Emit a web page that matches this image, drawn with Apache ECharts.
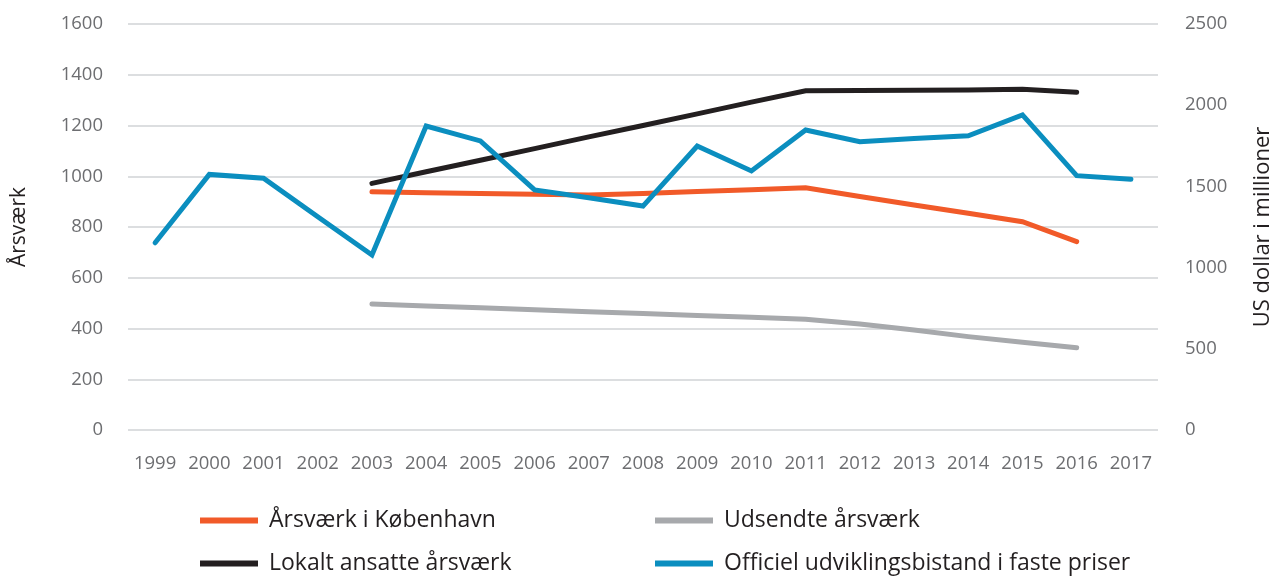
<!DOCTYPE html>
<html>
<head>
<meta charset="utf-8">
<script src="https://cdn.jsdelivr.net/npm/echarts@6/dist/echarts.min.js"></script>
<style>
html,body{margin:0;padding:0;background:#fff;overflow:hidden;width:1282px;height:578px;}
#chart{width:1282px;height:578px;}
</style>
</head>
<body>
<div id="chart"></div>
<script>
const years = ['1999','2000','2001','2002','2003','2004','2005','2006','2007','2008','2009','2010','2011','2012','2013','2014','2015','2016','2017'];
const leftTicks = [0, 200, 400, 600, 800, 1000, 1200, 1400, 1600];
const rightTicks = [0, 500, 1000, 1500, 2000, 2500];
const kobenhavn = [null,null,null,null,939,935,932,929,926,932,940,947,955,920,887,854,821,742,null];
const udsendte  = [null,null,null,null,497,489,482,474,466,459,451,444,436,418,394,368,346,324,null];
const lokalt    = [null,null,null,null,972,1018,1063,1109,1155,1200,1246,1292,1337,1338,1339,1340,1343,1331,null];
const bistand   = [1153,1574,1550,1313,1078,1872,1780,1478,1430,1379,1749,1595,1847,1775,1795,1812,1940,1566,1544];

const names = ['Årsværk i København','Udsendte årsværk','Lokalt ansatte årsværk','Officiel udviklingsbistand i faste priser'];
const colors = ['#f15a29','#a7a9ac','#231f20','#0b8ebf'];
const FONT = 'Open Sans';

const chart = echarts.init(document.getElementById('chart'), null, {renderer:'canvas', width:1282, height:578});

function mkSeries(i, data, yIdx){
  return {
    name: names[i], type:'line', data:data, yAxisIndex:yIdx,
    symbol:'none', smooth:false, connectNulls:false,
    lineStyle:{color:colors[i], width:5, cap:'round', join:'miter'},
    itemStyle:{color:colors[i]},
    emphasis:{disabled:true}, animation:false
  };
}
function mkLegend(i, left, top){
  return {
    data:[names[i]], left:left, top:top, orient:'horizontal',
    padding:0,
    icon:'rect', itemWidth:58, itemHeight:6,
    textStyle:{fontFamily:FONT, fontSize:23, color:'#231f20', padding:[0,0,0,6]},
    selectedMode:false
  };
}
const plain = v => String(v);

chart.setOption({
  animation:false,
  textStyle:{fontFamily:FONT},
  grid:{left:128, right:114, top:24, bottom:148, containLabel:false},
  legend:[
    mkLegend(0, 200, 509),
    mkLegend(1, 655, 509),
    mkLegend(2, 200, 552),
    mkLegend(3, 655, 552)
  ],
  xAxis:{
    type:'category', data:years, boundaryGap:true,
    axisLine:{show:false}, axisTick:{show:false},
    axisLabel:{fontFamily:FONT, fontSize:18.5, color:'#6d6e71', margin:24, interval:0}
  },
  yAxis:[
    {
      type:'value', min:leftTicks[0], max:leftTicks[leftTicks.length-1], interval:200,
      position:'left',
      name:'Årsværk', nameLocation:'middle', nameGap:98, nameRotate:90,
      nameTextStyle:{fontFamily:FONT, fontSize:21, color:'#231f20'},
      axisLine:{show:false}, axisTick:{show:false},
      axisLabel:{fontFamily:FONT, fontSize:18.5, color:'#6d6e71', margin:25, formatter:plain},
      splitLine:{show:true, lineStyle:{color:'#d1d3d6', width:1.5}}
    },
    {
      type:'value', min:rightTicks[0], max:rightTicks[rightTicks.length-1], interval:500,
      position:'right',
      name:'US dollar i millioner', nameLocation:'middle', nameGap:94, nameRotate:90,
      nameTextStyle:{fontFamily:FONT, fontSize:22, color:'#231f20'},
      axisLine:{show:false}, axisTick:{show:false},
      axisLabel:{fontFamily:FONT, fontSize:18.5, color:'#6d6e71', margin:27, formatter:plain},
      splitLine:{show:false}
    }
  ],
  series:[
    mkSeries(0, kobenhavn, 0),
    mkSeries(1, udsendte, 0),
    mkSeries(2, lokalt, 0),
    mkSeries(3, bistand, 1)
  ]
});
</script>
</body>
</html>
